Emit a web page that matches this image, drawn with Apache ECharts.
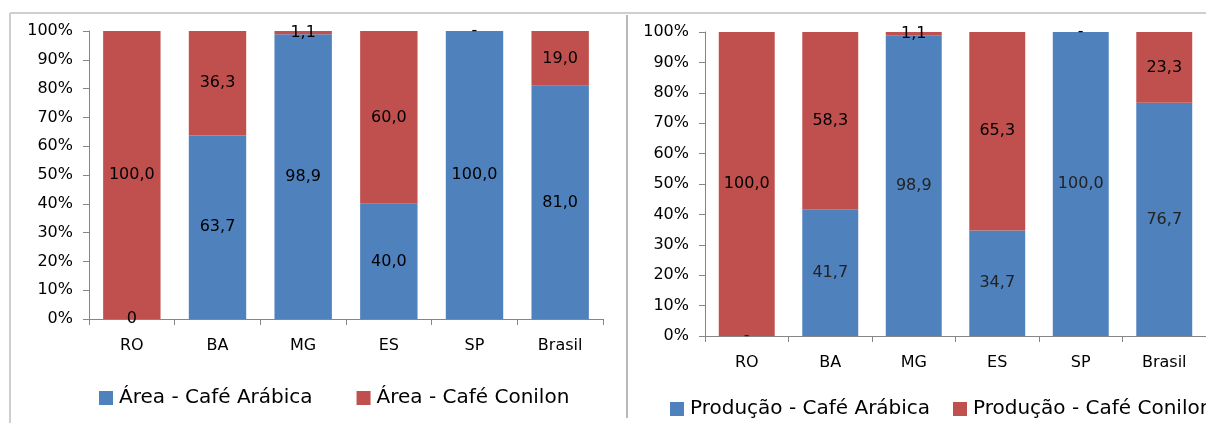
<!DOCTYPE html>
<html>
<head>
<meta charset="utf-8">
<style>
  html, body { margin: 0; padding: 0; background: #fff; }
  #chart { width: 1206px; height: 423px; }
</style>
<script src="https://cdn.jsdelivr.net/npm/echarts@6/dist/echarts.min.js"></script>
</head>
<body>
<div id="chart"></div>
<script>
// States and national total
const categories = ['RO', 'BA', 'MG', 'ES', 'SP', 'Brasil'];

// Share of planted area (%)
const areaArabica = [0, 63.7, 98.9, 40.0, 100.0, 81.0];
const areaConilon = [100.0, 36.3, 1.1, 60.0, 0, 19.0];

// Share of production (%)
const producaoArabica = [0, 41.7, 98.9, 34.7, 100.0, 76.7];
const producaoConilon = [100.0, 58.3, 1.1, 65.3, 0, 23.3];

const seriesNames = {
  areaArabica: 'Área - Café Arábica',
  areaConilon: 'Área - Café Conilon',
  producaoArabica: 'Produção - Café Arábica',
  producaoConilon: 'Produção - Café Conilon'
};

const BLUE = '#4F81BD';
const RED = '#C0504D';
const AXIS = '#868686';
const FONT = 'DejaVu Sans';

function fmt(zeroMark) {
  return p => (p.value === 0 ? zeroMark : p.value.toFixed(1).replace('.', ','));
}

function makeBar(name, data, color, idx, stack, zeroMark, labelColor) {
  return {
    name: name,
    type: 'bar',
    stack: stack,
    xAxisIndex: idx,
    yAxisIndex: idx,
    data: data,
    barCategoryGap: '33%',
    itemStyle: { color: color },
    label: {
      show: true,
      position: 'inside',
      formatter: fmt(zeroMark),
      color: labelColor,
      fontFamily: FONT,
      fontSize: 16
    }
  };
}

function xAxis(gridIndex) {
  return {
    type: 'category',
    gridIndex: gridIndex,
    data: categories,
    axisLine: { lineStyle: { color: AXIS } },
    axisTick: { show: true, length: 6, lineStyle: { color: AXIS } },
    axisLabel: { color: '#000', fontFamily: FONT, fontSize: 16, margin: 19 }
  };
}

function yAxis(gridIndex) {
  return {
    type: 'value',
    gridIndex: gridIndex,
    min: 0,
    max: 100,
    interval: 10,
    splitLine: { show: false },
    axisLine: { show: true, lineStyle: { color: AXIS } },
    axisTick: { show: true, length: 6, lineStyle: { color: AXIS } },
    axisLabel: { color: '#000', fontFamily: FONT, fontSize: 16, margin: 16, formatter: '{value}%' }
  };
}

function legend(names, left, top, gap) {
  return {
    data: names,
    left: left,
    top: top,
    padding: 0,
    icon: 'rect',
    itemWidth: 14,
    itemHeight: 14,
    itemGap: gap,
    textStyle: { color: '#000', fontFamily: FONT, fontSize: 20, padding: [0, 0, 0, 1] }
  };
}

const chart = echarts.init(document.getElementById('chart'), null, { renderer: 'canvas' });

chart.setOption({
  animation: false,
  backgroundColor: '#fff',
  graphic: [
    { type: 'line', shape: { x1: 10, y1: 13, x2: 1206, y2: 13 }, style: { stroke: '#cfcfcf', lineWidth: 2 } },
    { type: 'line', shape: { x1: 10, y1: 13, x2: 10, y2: 423 }, style: { stroke: '#cfcfcf', lineWidth: 2 } },
    { type: 'line', shape: { x1: 627, y1: 15, x2: 627, y2: 418 }, style: { stroke: '#b8b8b8', lineWidth: 2 } }
  ],
  grid: [
    { left: 89, top: 31, width: 514, height: 288 },
    { left: 705, top: 32, width: 514, height: 304 }
  ],
  xAxis: [xAxis(0), xAxis(1)],
  yAxis: [yAxis(0), yAxis(1)],
  legend: [
    legend([seriesNames.areaArabica, seriesNames.areaConilon], 99, 388, 44),
    legend([seriesNames.producaoArabica], 670, 399, 0),
    legend([seriesNames.producaoConilon], 953, 399, 0)
  ],
  series: [
    makeBar(seriesNames.areaArabica, areaArabica, BLUE, 0, 'area', '0', '#000'),
    makeBar(seriesNames.areaConilon, areaConilon, RED, 0, 'area', '-', '#000'),
    makeBar(seriesNames.producaoArabica, producaoArabica, BLUE, 1, 'prod', '-', '#222'),
    makeBar(seriesNames.producaoConilon, producaoConilon, RED, 1, 'prod', '-', '#000')
  ]
});
</script>
</body>
</html>
